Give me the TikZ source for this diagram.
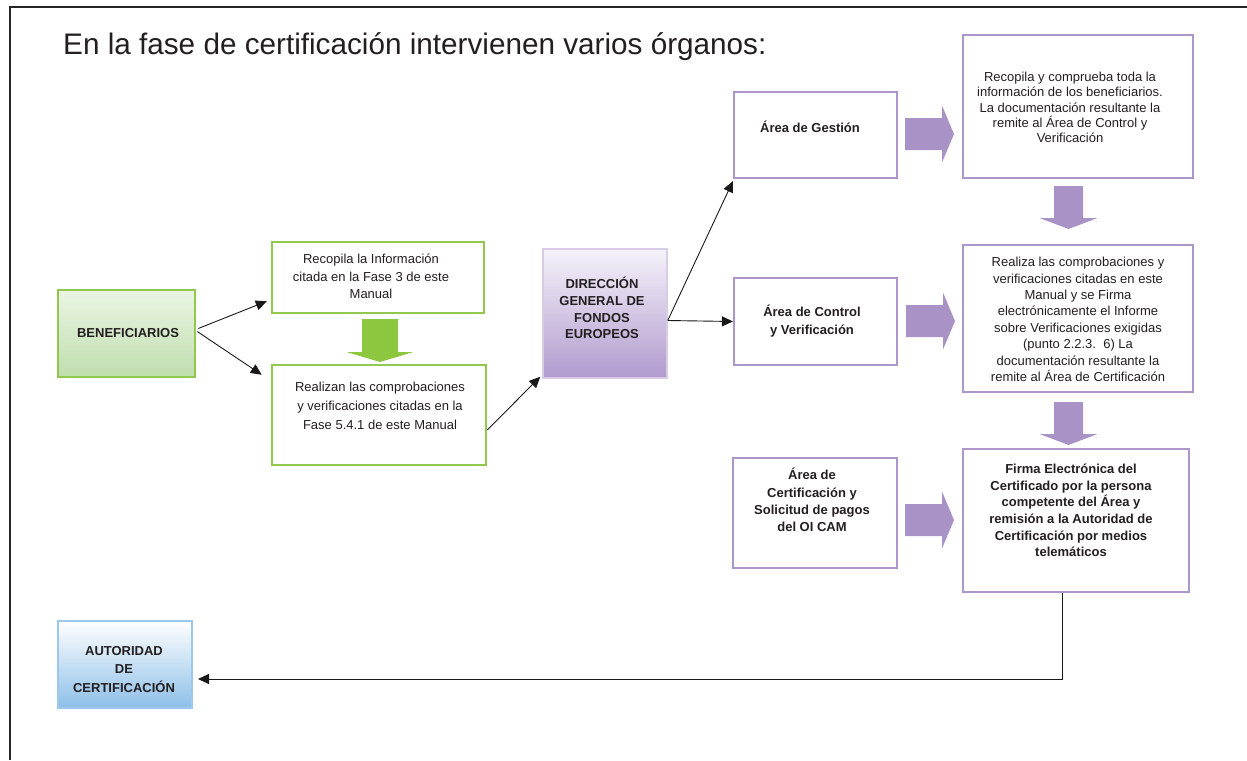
\documentclass[tikz,border=0pt]{standalone}
\usepackage{fontspec}
\setmainfont{Liberation Sans}
\usetikzlibrary{arrows.meta,calc}
\definecolor{txt}{HTML}{231F20}
\definecolor{grnarrow}{HTML}{8DC63F}
\definecolor{grnborder}{HTML}{92C84E}
\definecolor{purp}{HTML}{AD96C9}
\definecolor{purparrow}{HTML}{A992C6}
\definecolor{blueborder}{HTML}{9CC8EC}
\definecolor{bluebot}{HTML}{8DBFE8}
\definecolor{dirtop}{HTML}{F6F2FA}
\definecolor{dirbot}{HTML}{B09BCE}
\definecolor{bentop}{HTML}{EAF5E3}
\definecolor{benbot}{HTML}{C0DEAE}
\begin{document}
\begin{tikzpicture}[x=1pt,y=-1pt,
  pbox/.style={draw=purp, line width=2.2pt, fill=white, inner sep=0pt},
  gbox/.style={draw=grnborder, line width=2.5pt, fill=white, inner sep=0pt},
  tx/.style={font=\fontsize{13}{#1}\selectfont, align=center, inner sep=0pt, text=txt},
  conn/.style={draw=black!90, line width=0.9pt, -{Triangle[length=11pt,width=10pt]}},
  pics/rarr/.style={code={\fill[purparrow] (0,-16) -- (37,-16) -- (37,-28.5) -- (49,0) -- (37,28.5) -- (37,16) -- (0,16) -- cycle;}},
  pics/darr/.style={code={\fill[purparrow] (-14.5,0) -- (14.5,0) -- (14.5,32) -- (29,32) -- (0,43) -- (-29,32) -- (-14.5,32) -- cycle;}},
  pics/garr/.style={code={\fill[grnarrow] (-18,0) -- (18,0) -- (18,33) -- (33.5,33) -- (0,43) -- (-33.5,33) -- (-18,33) -- cycle;}}
]
\useasboundingbox (0,0) rectangle (1247,760);
% outer frame
\draw[line width=1.6pt, black!85] (10,760) -- (10,7) -- (1247,7);

% title
\node[anchor=base west, inner sep=0pt, font=\fontsize{29.7}{34}\selectfont, text=txt] (title) at (63,55) {En la fase de certificación intervienen varios órganos:};

% boxes
\node[gbox, draw=grnborder, top color=bentop, bottom color=benbot, minimum width=137pt, minimum height=87pt] (ben) at (126.5,333.5) {};
\node[gbox, minimum width=212pt, minimum height=71pt] (rec1) at (378,277.5) {};
\node[gbox, minimum width=214pt, minimum height=100pt] (rea1) at (379,415) {};
\node[pbox, draw=dirtop!60!purp, line width=1.5pt, top color=dirtop, bottom color=dirbot, minimum width=124pt, minimum height=129pt] (dir) at (605,313.5) {};
\node[pbox, minimum width=163pt, minimum height=86pt] (ges) at (815.5,135) {};
\node[pbox, minimum width=230pt, minimum height=143pt] (rcp) at (1078,106.5) {};
\node[pbox, minimum width=163pt, minimum height=87pt] (ctl) at (815.5,321.5) {};
\node[pbox, minimum width=230pt, minimum height=147pt] (rz) at (1078,318.5) {};
\node[pbox, minimum width=164pt, minimum height=110pt] (cert) at (815,513) {};
\node[pbox, minimum width=226pt, minimum height=143pt] (fir) at (1076,520.5) {};
\node[pbox, draw=blueborder, line width=2pt, top color=white, bottom color=bluebot, minimum width=134pt, minimum height=87pt] (aut) at (125,664.5) {};

% texts
\node[tx=15.3] (ben-t) at (128,333) {\bfseries BENEFICIARIOS};
\node[tx=17.5] (rec1-t) at (371,276.5) {Recopila la Información\\citada en la Fase 3 de este\\Manual};
\node[tx=19] (rea1-t) at (380,406) {Realizan las comprobaciones\\y verificaciones citadas en la\\Fase 5.4.1 de este Manual};
\node[tx=16.7] (dir-t) at (602,308) {\bfseries DIRECCIÓN\\\bfseries GENERAL DE\\\bfseries FONDOS\\\bfseries EUROPEOS};
\node[tx=15.3] (ges-t) at (810,127) {\bfseries Área de Gestión};
\node[tx=15.3] (rcp-t) at (1070,107.5) {Recopila y comprueba toda la\\información de los beneficiarios.\\La documentación resultante la\\remite al Área de Control y\\Verificación};
\node[tx=18] (ctl-t) at (812,321) {\bfseries Área de Control\\\bfseries y Verificación};
\node[tx=16.4] (rz-t) at (1078,319.5) {Realiza las comprobaciones y\\verificaciones citadas en este\\Manual y se Firma\\electrónicamente el Informe\\sobre Verificaciones exigidas\\(punto 2.2.3.\ \ 6) La\\documentación resultante la\\remite al Área de Certificación};
\node[tx=17.3] (cert-t) at (812,500) {\bfseries Área de\\\bfseries Certificación y\\\bfseries Solicitud de pagos\\\bfseries del OI CAM};
\node[tx=16.6] (fir-t) at (1071,510.5) {\bfseries Firma Electrónica del\\\bfseries Certificado por la persona\\\bfseries competente del Área y\\\bfseries remisión a la Autoridad de\\\bfseries Certificación por medios\\\bfseries telemáticos};
\node[tx=18.5] (aut-t) at (124,669.5) {\bfseries AUTORIDAD\\\bfseries DE\\\bfseries CERTIFICACIÓN};

% block arrows
\pic at (380,319) {garr};
\pic at (905,134) {rarr};
\pic at (1068.5,186) {darr};
\pic at (906,321) {rarr};
\pic at (1068.5,402) {darr};
\pic at (905,520) {rarr};

% connectors
\draw[conn] ($(ben.east)+(2,-5)$) -- ($(rec1.south west)+(-4,-13)$);
\draw[conn] ($(ben.east)+(1,-2)$) -- ($(rea1.north west)+(-9,11)$);
\draw[conn] ($(rea1.east)+(0,15)$) -- ($(dir.south west)+(-2,-2)$);
\draw[conn] ($(dir.east)+(0,7)$) -- ($(ges.south west)+(0,2)$);
\draw[conn] ($(dir.east)+(0,7)$) -- (ctl.west);
\draw[conn] ($(fir.south)+(-14,0)$) |- ($(aut.east)+(5,14.5)$);
\end{tikzpicture}
\end{document}
